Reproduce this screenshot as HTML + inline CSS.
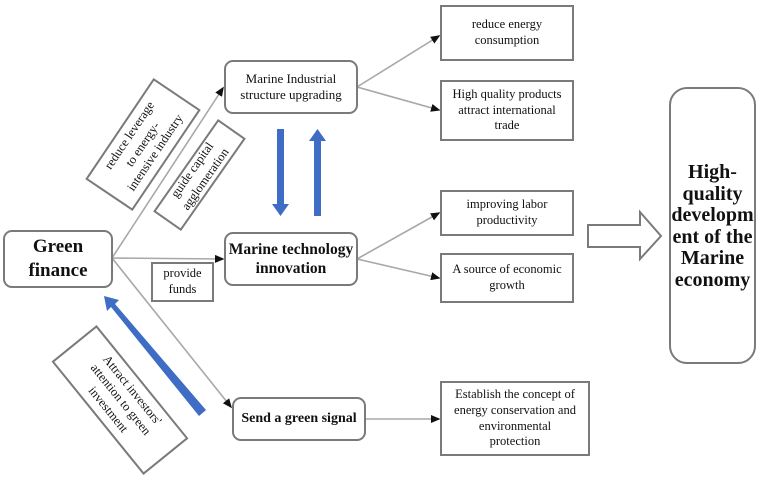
<!DOCTYPE html>
<html><head><meta charset="utf-8"><style>
body{margin:0;width:760px;height:484px;background:#fff;overflow:hidden;font-family:"Liberation Serif",serif;}
svg{position:absolute;left:0;top:0}
.b{position:absolute;box-sizing:border-box;border:2px solid #7a7a7a;background:#fff;display:flex;align-items:center;justify-content:center;text-align:center;color:#111;line-height:1.25;font-size:12.5px}
.r{border-radius:9px}
.bold{font-weight:bold}
</style></head><body>
<svg width="760" height="484">
<defs><marker id="a" markerWidth="6" markerHeight="6" refX="5" refY="3" orient="auto"><path d="M0,0.5L6,3L0,5.5z" fill="#111"/></marker></defs>
<g stroke="#a8a8a8" stroke-width="1.6" fill="none" marker-end="url(#a)">
<line x1="112" y1="258" x2="223" y2="88"/>
<line x1="112" y1="258" x2="223" y2="259"/>
<line x1="112" y1="258" x2="231" y2="407"/>
<line x1="357" y1="87" x2="439" y2="36"/>
<line x1="357" y1="87" x2="439" y2="110"/>
<line x1="357" y1="259" x2="439" y2="213"/>
<line x1="357" y1="259" x2="439" y2="278"/>
<line x1="365" y1="419" x2="439" y2="419"/>
</g>
<g fill="#3f6cc4">
<rect x="277" y="129" width="7" height="76"/><path d="M272,204L289,204L280.5,216z"/>
<rect x="314" y="140" width="7" height="76"/><path d="M309,141L326,141L317.5,129z"/>
<path d="M199,416L206,410L115,304L119,300L104,296L107,311L111,307z"/>
</g>
<path d="M588,225L640,225L640,212L661,236L640,259L640,247L588,247z" fill="#fff" stroke="#7a7a7a" stroke-width="2"/>
</svg>
<div class="b r bold" style="left:3px;top:230px;width:110px;height:58px;font-size:19px">Green<br>finance</div>
<div class="b r" style="left:224px;top:60px;width:134px;height:54px;font-size:13px">Marine Industrial<br>structure upgrading</div>
<div class="b r bold" style="left:224px;top:232px;width:134px;height:54px;font-size:15.5px">Marine technology<br>innovation</div>
<div class="b r bold" style="left:232px;top:397px;width:134px;height:44px;font-size:14px">Send a green signal</div>
<div class="b" style="left:151px;top:262px;width:63px;height:40px">provide<br>funds</div>
<div class="b" style="left:82px;top:116px;width:122px;height:57px;transform:rotate(-56deg)">reduce leverage<br>to energy-<br>intensive industry</div>
<div class="b" style="left:143px;top:158px;width:113px;height:34px;transform:rotate(-55deg)">guide capital<br>agglomeration</div>
<div class="b" style="left:47px;top:371px;width:146px;height:58px;transform:rotate(51deg)">Attract investors'<br>attention to green<br>investment</div>
<div class="b" style="left:440px;top:5px;width:134px;height:56px">reduce energy<br>consumption</div>
<div class="b" style="left:440px;top:80px;width:134px;height:61px">High quality products<br>attract international<br>trade</div>
<div class="b" style="left:440px;top:190px;width:134px;height:46px">improving labor<br>productivity</div>
<div class="b" style="left:440px;top:253px;width:134px;height:50px">A source of economic<br>growth</div>
<div class="b" style="left:440px;top:381px;width:150px;height:75px">Establish the concept of<br>energy conservation and<br>environmental<br>protection</div>
<div class="b r bold" style="left:669px;top:87px;width:87px;height:277px;border-radius:18px;font-size:20px;line-height:1.08;align-items:flex-start;padding-top:73px">High-<br>quality<br>developm<br>ent of the<br>Marine<br>economy</div>
</body></html>
